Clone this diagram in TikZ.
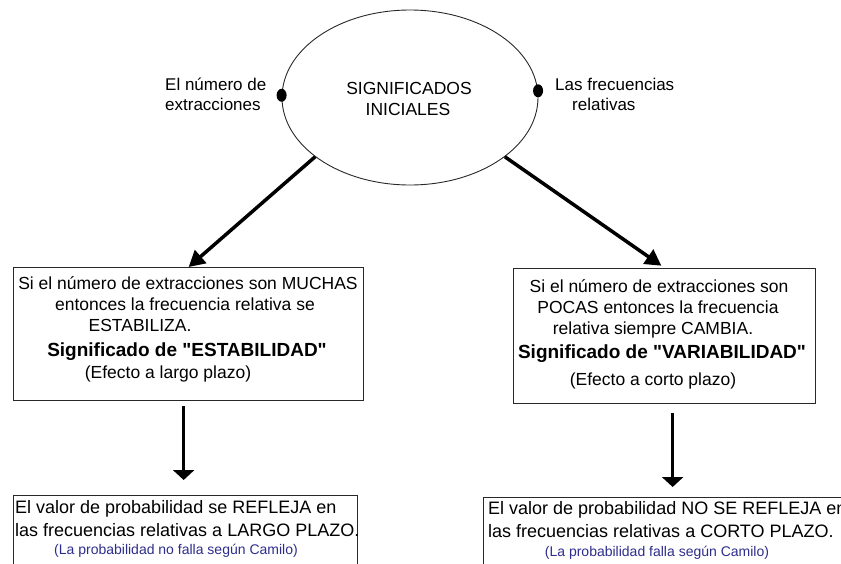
\documentclass[tikz,border=0pt]{standalone}
\usepackage{fontspec}
\setmainfont{Liberation Sans}
\newfontfamily\qfont{Liberation Sans}
\usetikzlibrary{arrows.meta,shapes.geometric}
\definecolor{note}{RGB}{45,45,140}
\definecolor{edge}{RGB}{40,40,40}
\newcommand{\sdq}{{\qfont\char34}}
\begin{document}
\begin{tikzpicture}[x=1pt,y=-1pt,
  lbl/.style={inner sep=0pt, anchor=base, font=\fontsize{17}{20}\selectfont},
  txt/.style={inner sep=0pt, anchor=base, font=\fontsize{17.5}{20}\selectfont},
  btxt/.style={inner sep=0pt, anchor=base west, font=\fontsize{18}{20}\selectfont},
  bold/.style={inner sep=0pt, anchor=base, font=\fontsize{19}{22}\selectfont\bfseries},
  small/.style={inner sep=0pt, anchor=base, text=note, font=\fontsize{14}{16}\selectfont},
  box/.style={draw=edge, line width=1.3pt, rectangle, inner sep=0pt, anchor=north west},
  dot/.style={fill=black, ellipse, inner sep=0pt, minimum width=10pt, minimum height=13pt},
  diag/.style={line width=3.5pt, -{Triangle[length=16pt,width=17pt]}},
  vert/.style={line width=3pt, -{Triangle[length=10pt,width=21pt]}}]
\useasboundingbox (0,0) rectangle (841,563);
\clip (0,0) rectangle (841,563);
% ellipse
\node[draw=edge, line width=0.9pt, ellipse, inner sep=0pt, minimum width=256pt, minimum height=175pt] (main) at (410,97.5) {};
\node[txt] (s1) at (409,94) {SIGNIFICADOS};
\node[txt] (s2) at (408,115) {INICIALES};
\node[dot] (d1) at (main.179) {};
\node[dot] (d2) at (main.3) {};
\node[lbl, anchor=base west] (l1) at (165,90) {El número de};
\node[lbl, anchor=base west] (l2) at (165,110) {extracciones};
\node[lbl, anchor=base west] (r1) at (555,90) {Las frecuencias};
\node[lbl, anchor=base west] (r2) at (572,110) {relativas};
% boxes
\node[box, minimum width=350pt, minimum height=133pt] (b1) at (13,267) {};
\node[box, minimum width=302pt, minimum height=135pt] (b2) at (513,268) {};
\node[box, minimum width=344pt, minimum height=110pt] (b3) at (13,495) {};
\node[box, minimum width=420pt, minimum height=110pt] (b4) at (483,497) {};
% left box text
\node[txt] (a1) at (188,289) {Si el número de extracciones son MUCHAS};
\node[txt] (a2) at (185,310) {entonces la frecuencia relativa se};
\node[txt] (a3) at (140,331) {ESTABILIZA.};
\node[bold] (a4) at (187,356) {Significado de \sdq ESTABILIDAD\sdq};
\node[txt] (a5) at (168,378) {(Efecto a largo plazo)};
% right box text
\node[txt] (c1) at (659,292) {Si el número de extracciones son};
\node[txt] (c2) at (658,313) {POCAS entonces la frecuencia};
\node[txt] (c3) at (653,334) {relativa siempre CAMBIA.};
\node[bold] (c4) at (662,358) {Significado de \sdq VARIABILIDAD\sdq};
\node[txt] (c5) at (653,385) {(Efecto a corto plazo)};
% bottom left text
\node[btxt] (e1) at (15,513) {El valor de probabilidad se REFLEJA en};
\node[btxt] (e2) at (15,536) {las frecuencias relativas a LARGO PLAZO.};
\node[small] (e3) at (176,554) {(La probabilidad no falla según Camilo)};
% bottom right text
\node[btxt] (f1) at (488,514) {El valor de probabilidad NO SE REFLEJA en};
\node[btxt] (f2) at (488,537) {las frecuencias relativas a CORTO PLAZO.};
\node[small] (f3) at (657,556) {(La probabilidad falla según Camilo)};
% arrows
\draw[diag] (main.212) -- (b1.north);
\draw[diag, shorten >=4pt] (main.328.5) -- (b2.north);
\draw[vert, shorten <=5pt, shorten >=15pt] ([xshift=-5pt]b1.south) -- ([xshift=-5pt]b1.south |- b3.north);
\draw[vert, shorten <=9pt, shorten >=10pt] ([xshift=8pt]b2.south) -- ([xshift=8pt]b2.south |- b4.north);
\end{tikzpicture}
\end{document}
